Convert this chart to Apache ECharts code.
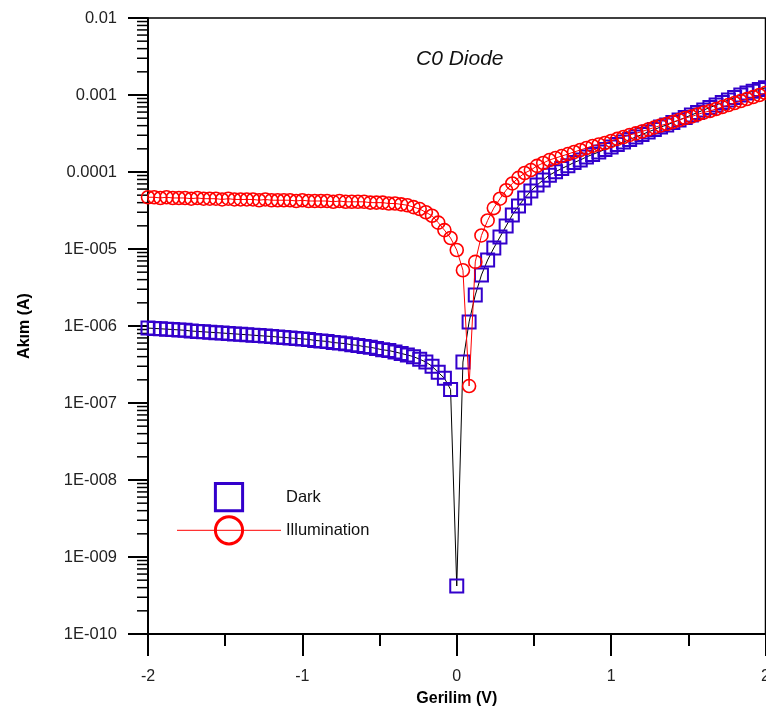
<!DOCTYPE html>
<html>
<head>
<meta charset="utf-8">
<title>C0 Diode</title>
<script src="https://cdn.jsdelivr.net/npm/echarts@6/dist/echarts.min.js"></script>
<style>
  html, body { margin: 0; padding: 0; background: #fff; }
  #main { width: 766px; height: 708px; }
</style>
</head>
<body>
<div id="main"></div>
<script>
// voltage steps (V)
var volts = [
  -2, -1.96, -1.92, -1.88, -1.84, -1.8, -1.76, -1.72, -1.68, -1.64,
  -1.6, -1.56, -1.52, -1.48, -1.44, -1.4, -1.36, -1.32, -1.28, -1.24,
  -1.2, -1.16, -1.12, -1.08, -1.04, -1, -0.96, -0.92, -0.88, -0.84,
  -0.8, -0.76, -0.72, -0.68, -0.64, -0.6, -0.56, -0.52, -0.48, -0.44,
  -0.4, -0.36, -0.32, -0.28, -0.24, -0.2, -0.16, -0.12, -0.08, -0.04,
  0,
  0.04, 0.08, 0.12, 0.16, 0.2, 0.24, 0.28, 0.32, 0.36, 0.4,
  0.44, 0.48, 0.52, 0.56, 0.6, 0.64, 0.68, 0.72, 0.76, 0.8,
  0.84, 0.88, 0.92, 0.96, 1, 1.04, 1.08, 1.12, 1.16, 1.2,
  1.24, 1.28, 1.32, 1.36, 1.4, 1.44, 1.48, 1.52, 1.56, 1.6,
  1.64, 1.68, 1.72, 1.76, 1.8, 1.84, 1.88, 1.92, 1.96, 2
];

// current in the dark (A)
var darkCurrent = [
  9.4e-7, 9.3e-7, 9.2e-7, 9.1e-7, 9.0e-7, 8.9e-7, 8.8e-7, 8.6e-7, 8.5e-7, 8.4e-7,
  8.3e-7, 8.2e-7, 8.1e-7, 8.0e-7, 7.9e-7, 7.8e-7, 7.7e-7, 7.6e-7, 7.5e-7, 7.4e-7,
  7.3e-7, 7.2e-7, 7.1e-7, 7.0e-7, 6.9e-7, 6.8e-7, 6.7e-7, 6.5e-7, 6.4e-7, 6.3e-7,
  6.1e-7, 6.0e-7, 5.9e-7, 5.7e-7, 5.6e-7, 5.4e-7, 5.3e-7, 5.1e-7, 4.9e-7, 4.8e-7,
  4.6e-7, 4.4e-7, 4.2e-7, 4.0e-7, 3.7e-7, 3.4e-7, 3.0e-7, 2.5e-7, 2.1e-7, 1.5e-7,
  4.2e-10,
  3.4e-7, 1.13e-6, 2.53e-6, 4.6e-6, 7.2e-6, 1.03e-5, 1.43e-5, 1.99e-5, 2.77e-5, 3.62e-5,
  4.6e-5, 5.66e-5, 6.78e-5, 7.87e-5, 9.1e-5, 1.01e-4, 1.11e-4, 1.21e-4, 1.33e-4, 1.43e-4,
  1.57e-4, 1.69e-4, 1.82e-4, 1.96e-4, 2.11e-4, 2.28e-4, 2.45e-4, 2.64e-4, 2.85e-4, 3.07e-4,
  3.31e-4, 3.56e-4, 3.84e-4, 4.07e-4, 4.39e-4, 4.73e-4, 5.1e-4, 5.5e-4, 5.93e-4, 6.39e-4,
  6.88e-4, 7.41e-4, 7.99e-4, 8.61e-4, 9.28e-4, 1.0e-3, 1.06e-3, 1.12e-3, 1.18e-3, 1.24e-3
];

// current under illumination (A)
var lightCurrent = [
  4.7e-5, 4.7e-5, 4.6e-5, 4.7e-5, 4.6e-5, 4.6e-5, 4.6e-5, 4.5e-5, 4.6e-5, 4.5e-5,
  4.5e-5, 4.5e-5, 4.4e-5, 4.5e-5, 4.4e-5, 4.4e-5, 4.4e-5, 4.4e-5, 4.3e-5, 4.4e-5,
  4.3e-5, 4.3e-5, 4.3e-5, 4.3e-5, 4.2e-5, 4.3e-5, 4.2e-5, 4.2e-5, 4.2e-5, 4.2e-5,
  4.1e-5, 4.2e-5, 4.1e-5, 4.1e-5, 4.1e-5, 4.1e-5, 4.0e-5, 4.0e-5, 4.0e-5, 3.9e-5,
  3.9e-5, 3.8e-5, 3.7e-5, 3.5e-5, 3.3e-5, 3.0e-5, 2.7e-5, 2.2e-5, 1.76e-5, 1.39e-5,
  9.7e-6,
  5.3e-6, 1.66e-7, 6.8e-6, 1.5e-5, 2.35e-5, 3.4e-5, 4.5e-5, 5.8e-5, 7.1e-5, 8.4e-5,
  9.7e-5, 1.06e-4, 1.2e-4, 1.31e-4, 1.43e-4, 1.52e-4, 1.61e-4, 1.71e-4, 1.82e-4, 1.93e-4,
  2.05e-4, 2.18e-4, 2.28e-4, 2.38e-4, 2.53e-4, 2.69e-4, 2.85e-4, 3.03e-4, 3.17e-4, 3.36e-4,
  3.57e-4, 3.79e-4, 4.02e-4, 4.2e-4, 4.46e-4, 4.73e-4, 5.03e-4, 5.26e-4, 5.58e-4, 5.93e-4,
  6.2e-4, 6.58e-4, 6.98e-4, 7.41e-4, 7.87e-4, 8.35e-4, 8.87e-4, 9.42e-4, 1.0e-3, 1.06e-3
];

// y tick labels, keyed by decade exponent
var yTickExp = [-10, -9, -8, -7, -6, -5, -4, -3, -2];
var yTickLabels = ['1E-010', '1E-009', '1E-008', '1E-007', '1E-006', '1E-005', '0.0001', '0.001', '0.01'];

var fontFam = 'Arial, "Liberation Sans", sans-serif';

// log minor ticks (2..9 in every decade), drawn with a custom series
var minorTicks = [];
for (var e = -10; e < -2; e++) {
  for (var k = 2; k <= 9; k++) {
    minorTicks.push([-2, k * Math.pow(10, e)]);
  }
}

function zip(xs, ys) {
  return xs.map(function (x, i) { return [x, ys[i]]; });
}

var chart = echarts.init(document.getElementById('main'));

var option = {
  animation: false,
  backgroundColor: '#fff',
  title: {
    text: 'C0 Diode',
    left: 416,
    top: 49,
    padding: 0,
    textStyle: {
      fontFamily: fontFam,
      fontSize: 21,
      fontStyle: 'italic',
      fontWeight: 'normal',
      color: '#111'
    }
  },
  grid: {
    left: 148,
    right: 0.5,
    top: 18,
    bottom: 74,
    outerBoundsMode: 'none',
    containLabel: false,
    show: true,
    borderColor: '#000',
    borderWidth: 1.5,
    backgroundColor: 'transparent'
  },
  legend: {
    orient: 'vertical',
    left: 176,
    top: 482,
    padding: 0,
    itemWidth: 104,
    itemHeight: 34,
    itemGap: 3,
    textStyle: { fontFamily: fontFam, fontSize: 16.5, color: '#111' },
    data: [
      { name: 'Dark', lineStyle: { opacity: 0 }, itemStyle: { borderWidth: 3 } },
      { name: 'Illumination', lineStyle: { width: 1, color: '#ff0000' }, itemStyle: { borderWidth: 3 } }
    ]
  },
  xAxis: {
    type: 'value',
    min: -2,
    max: 2,
    interval: 1,
    name: 'Gerilim (V)',
    nameLocation: 'middle',
    nameGap: 57,
    nameTextStyle: { fontFamily: fontFam, fontSize: 16, fontWeight: 'bold', color: '#000' },
    axisLine: { onZero: false, lineStyle: { color: '#000', width: 2 } },
    axisTick: { length: 22, lineStyle: { color: '#000', width: 2 } },
    minorTick: { show: true, splitNumber: 2, length: 12, lineStyle: { color: '#000', width: 2 } },
    axisLabel: { margin: 35, fontFamily: fontFam, fontSize: 16, color: '#222' },
    splitLine: { show: false }
  },
  yAxis: {
    type: 'log',
    logBase: 10,
    min: 1e-10,
    max: 1e-2,
    splitNumber: 8,
    name: 'Akım (A)',
    nameLocation: 'middle',
    nameGap: 115,
    nameTextStyle: { fontFamily: fontFam, fontSize: 16, fontWeight: 'bold', color: '#000' },
    axisLine: { onZero: false, lineStyle: { color: '#000', width: 2 } },
    axisTick: { length: 20, lineStyle: { color: '#000', width: 2 } },
    axisLabel: {
      margin: 31,
      fontFamily: fontFam,
      fontSize: 16.5,
      color: '#222',
      formatter: function (v) {
        var i = yTickExp.indexOf(Math.round(Math.log10(v)));
        return i >= 0 ? yTickLabels[i] : '';
      }
    },
    splitLine: { show: false }
  },
  series: [
    {
      type: 'custom',
      silent: true,
      data: minorTicks,
      renderItem: function (params, api) {
        var p = api.coord([api.value(0), api.value(1)]);
        return {
          type: 'line',
          shape: { x1: p[0] - 11, y1: p[1], x2: p[0], y2: p[1] },
          style: { stroke: '#000', lineWidth: 1.5 }
        };
      }
    },
    {
      name: 'Dark',
      type: 'line',
      data: zip(volts, darkCurrent),
      symbol: 'rect',
      symbolSize: 13,
      itemStyle: { color: 'rgba(0,0,0,0)', borderColor: '#3300cc', borderWidth: 2 },
      lineStyle: { color: '#000', width: 1 },
      z: 3
    },
    {
      name: 'Illumination',
      type: 'line',
      data: zip(volts, lightCurrent),
      symbol: 'circle',
      symbolSize: 13,
      itemStyle: { color: 'rgba(0,0,0,0)', borderColor: '#ff0000', borderWidth: 1.6 },
      lineStyle: { color: '#ff0000', width: 1 },
      z: 4
    }
  ]
};

chart.setOption(option);
</script>
</body>
</html>
